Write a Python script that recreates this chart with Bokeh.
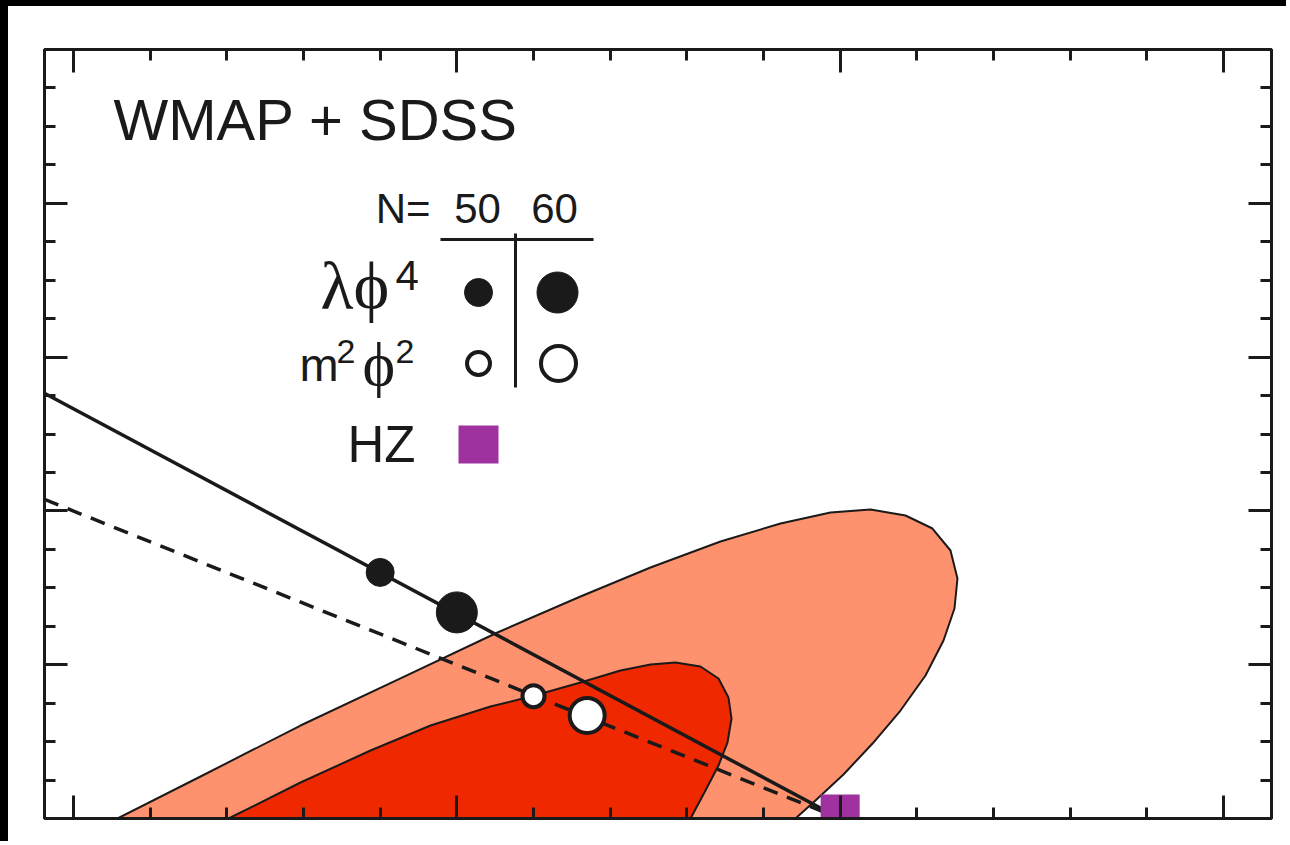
from bokeh.plotting import figure
from bokeh.models import Range1d, LinearAxis, FixedTicker, InlineStyleSheet
from bokeh.core.properties import value
from bokeh.embed import file_html
from bokeh.resources import INLINE

# ---------------- data ----------------
N_efolds = [50, 60]
# lambda phi^4 predictions (n_s, r) for N = 50, 60
lam4_ns = [0.940, 0.950]
lam4_r = [0.320, 0.268]
# m^2 phi^2 predictions (n_s, r) for N = 50, 60
m2_ns = [0.960, 0.967]
m2_r = [0.159, 0.134]
# model tracks
lam4_track_ns = [0.8962, 1.000]
lam4_track_r = [0.553, 0.000]
m2_track_ns = [0.8962, 1.000]
m2_track_r = [0.415, 0.000]
# Harrison-Zel'dovich point
hz_ns = [1.000]
hz_r = [0.000]

# WMAP + SDSS likelihood contours, traced (n_s, r)
c95_ns = [0.90157, 0.90574, 0.91657, 0.92961, 0.94265, 0.95530, 0.96613, 0.97526,
          0.98439, 0.99222, 0.99874, 1.00396, 1.00852, 1.01204, 1.01439, 1.01530,
          1.01491, 1.01348, 1.01113, 1.00787, 1.00422, 1.00043, 0.99678, 0.99417,
          0.99222]
c95_r = [-0.0221, 0.0000, 0.0546, 0.1209, 0.1821, 0.2419, 0.2887, 0.3264,
         0.3602, 0.3836, 0.3979, 0.4018, 0.3940, 0.3771, 0.3485, 0.3121,
         0.2731, 0.2315, 0.1860, 0.1404, 0.0975, 0.0572, 0.0234, 0.0000,
         -0.0221]
c68_ns = [0.91657, 0.92022, 0.92961, 0.93874, 0.94657, 0.95439, 0.96013, 0.96613,
          0.97135, 0.97526, 0.97852, 0.98178, 0.98413, 0.98543, 0.98583, 0.98530,
          0.98413, 0.98243, 0.98048, 0.97917]
c68_r = [-0.0221, 0.0000, 0.0468, 0.0884, 0.1209, 0.1456, 0.1599, 0.1769,
         0.1925, 0.2003, 0.2029, 0.1977, 0.1821, 0.1573, 0.1300, 0.0988,
         0.0689, 0.0364, 0.0000, -0.0221]
contour_level = ["95%", "68%"]
contour_color = ["#FF926E", "#F02800"]

# axis ticks
x_major = [0.90, 0.95, 1.00, 1.05]
x_minor = [0.91, 0.92, 0.93, 0.94, 0.96, 0.97, 0.98, 0.99, 1.01, 1.02, 1.03, 1.04]
y_major = [0.2, 0.4, 0.6, 0.8]
y_minor = [0.05, 0.1, 0.15, 0.25, 0.3, 0.35, 0.45, 0.5, 0.55, 0.65, 0.7, 0.75, 0.85, 0.9, 0.95]

XR0, XR1 = 0.896217, 1.056261
YR0, YR1 = 0.0, 1.0

# ---------------- figure ----------------
W, H = 1286, 841
ML, MT = 44, 49
FW, FH = 1227, 769
MR, MB = W - ML - FW, H - MT - FH

p = figure(width=W, height=H, x_range=Range1d(XR0, XR1), y_range=Range1d(YR0, YR1),
           x_axis_type=None, y_axis_type=None, toolbar_location=None,
           output_backend="svg", min_border_left=ML, min_border_right=MR,
           min_border_top=MT, min_border_bottom=MB)
p.background_fill_color = "white"
p.border_fill_color = None
p.outline_line_color = "#222222"
p.outline_line_width = 3
p.stylesheets = [InlineStyleSheet(
    css=":host { background-color: #ffffff; box-shadow: inset 8px 6px 0 0 #000000; }")]

INK = "#1a1a1a"


def style_axis(ax):
    ax.major_tick_in = 23
    ax.major_tick_out = 0
    ax.minor_tick_in = 11
    ax.minor_tick_out = 0
    ax.major_tick_line_width = 3
    ax.minor_tick_line_width = 3
    ax.major_tick_line_color = INK
    ax.minor_tick_line_color = INK
    ax.axis_line_color = INK
    ax.axis_line_width = 3
    ax.major_label_text_color = None
    ax.major_label_text_font_size = "1px"
    ax.major_label_standoff = 0
    return ax


for loc in ["below", "above"]:
    p.add_layout(style_axis(LinearAxis(ticker=FixedTicker(ticks=x_major, minor_ticks=x_minor))), loc)
for loc in ["left", "right"]:
    p.add_layout(style_axis(LinearAxis(ticker=FixedTicker(ticks=y_major, minor_ticks=y_minor))), loc)

# contours
p.patches(xs=[c95_ns, c68_ns], ys=[c95_r, c68_r], fill_color=contour_color,
          line_color=INK, line_width=2, line_join="round")

# model tracks
p.line(lam4_track_ns, lam4_track_r, line_color=INK, line_width=3.5)
p.line(m2_track_ns, m2_track_r, line_color=INK, line_width=3.5, line_dash="15 10")

# model points
p.scatter(lam4_ns, lam4_r, marker="circle", size=[28, 41], fill_color=INK, line_color=INK, line_width=1)
p.scatter(m2_ns, m2_r, marker="circle", size=[22, 35], fill_color="white", line_color=INK, line_width=4)

# HZ point
p.rect(x=hz_ns, y=hz_r, width=39, height=48, width_units="screen", height_units="screen",
       fill_color="#A032A0", line_color=None)


# ---------------- legend / annotations (placed in page pixels) ----------------
def fx(px):
    return XR0 + (px - ML) * (XR1 - XR0) / FW


def fy(py):
    return YR1 - (py - MT) * (YR1 - YR0) / FH


def txt(s, px, baseline_py, size, font="Liberation Sans", align="left"):
    # anchor at the middle of the em box; shift from the wanted baseline
    k = 0.3375 if "Serif" in font else 0.3465
    p.text(x=[fx(px)], y=[fy(baseline_py - k * size)], text=[s], text_font=value(font),
           text_font_size=f"{size}px", text_align=align, text_baseline="middle",
           text_color=INK)


txt("WMAP + SDSS", 113, 139, 58)
txt("N=", 430, 223, 42, align="right")
txt(str(N_efolds[0]), 477, 223, 42, align="center")
txt(str(N_efolds[1]), 554, 223, 42, align="center")
txt("λϕ", 320, 308, 68, font="Liberation Serif")
txt("4", 395, 290, 42)
txt("m", 299, 380, 47)
txt("2", 336, 363, 34)
txt("ϕ", 362, 384, 62, font="Liberation Serif")
txt("2", 395, 363, 34)
txt("HZ", 347, 462, 51)

# legend rules
p.line([fx(440), fx(593)], [fy(239), fy(239)], line_color=INK, line_width=3)
p.line([fx(515), fx(515)], [fy(233), fy(387)], line_color=INK, line_width=3)

# legend symbols
p.scatter([fx(478), fx(557)], [fy(292), fy(292)], marker="circle", size=[28, 41],
          fill_color=INK, line_color=INK)
p.scatter([fx(478), fx(558)], [fy(363), fy(363)], marker="circle", size=[23, 35],
          fill_color="white", line_color=INK, line_width=4)
p.rect(x=[fx(478)], y=[fy(444)], width=40, height=38, width_units="screen",
       height_units="screen", fill_color="#A032A0", line_color=None)

open("out.html", "w").write(file_html(p, INLINE))
